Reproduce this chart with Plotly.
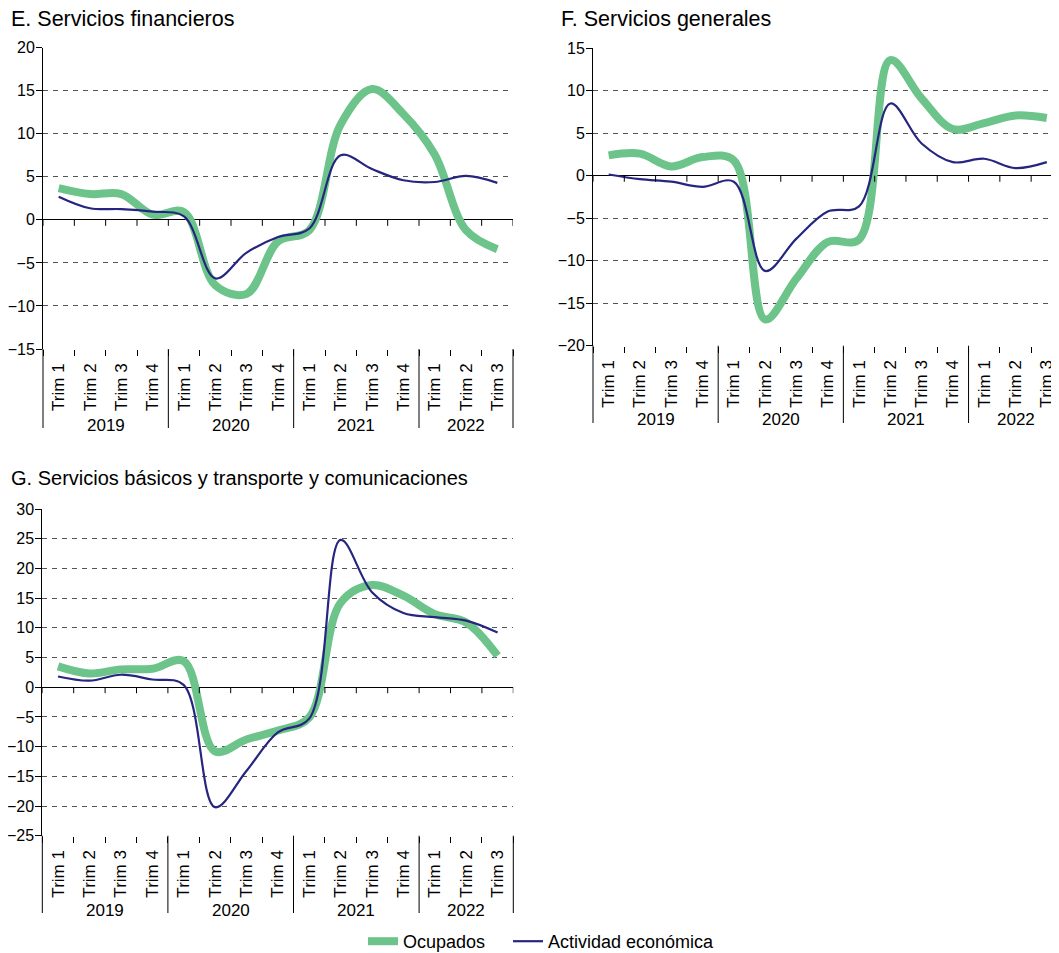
import plotly.graph_objects as go

# la página añade 8 px de margen; la figura ocupa el resto de la ventana
VENTANA_W, VENTANA_H = 1059, 953
OFF = 8
W, H = VENTANA_W - OFF, VENTANA_H - OFF

# datos (variación interanual, %)
trimestres = ["Trim 1", "Trim 2", "Trim 3", "Trim 4"] * 3 + ["Trim 1", "Trim 2", "Trim 3"]
anios = ["2019", "2020", "2021", "2022"]
anio_centro = [1.5, 5.5, 9.5, 13]
x = list(range(len(trimestres)))

fin_ocupados = [3.7, 3.0, 3.0, 0.6, 0.9, -7.6, -8.6, -2.5, -1.2, 11.1, 15.2, 12.3, 7.6, -1.2, -3.4]
fin_actividad = [2.7, 1.35, 1.25, 0.95, 0.4, -6.8, -3.8, -2.0, -1.0, 7.5, 5.9, 4.6, 4.4, 5.1, 4.3]

gen_ocupados = [2.4, 2.6, 1.1, 2.2, 1.8, -16.9, -12.1, -7.8, -7.5, 13.6, 9.1, 5.5, 6.2, 7.1, 6.8]
gen_actividad = [0.15, -0.4, -0.7, -1.3, -0.7, -11.2, -7.4, -4.2, -3.6, 8.5, 3.8, 1.6, 2.0, 0.9, 1.6]

bas_ocupados = [3.5, 2.3, 3.0, 3.1, 4.4, -10.8, -8.8, -7.3, -5.1, 14.2, 17.2, 15.4, 12.3, 10.9, 5.3]
bas_actividad = [1.8, 1.1, 2.1, 1.3, 0.4, -20.2, -14.1, -7.6, -5.3, 24.8, 16.0, 12.5, 11.8, 11.2, 9.2]

VERDE = "#6CC48A"
AZUL = "#262680"
FUENTE = "Liberation Sans, Arial, sans-serif"


def fx(p):
    return (p - OFF) / W


def fy(p):
    return 1 - (p - OFF) / H


paneles = [
    dict(titulo="E. Servicios financieros", ocu=fin_ocupados, act=fin_actividad, rango=[-15, 20],
         caja=(43, 513, 47.7, 349), tpos=(9, 19.5), tsize=21.5, anio_y=425, fondo=428, xr=[-0.5, 14.5]),
    dict(titulo="F. Servicios generales", ocu=gen_ocupados, act=gen_actividad, rango=[-20, 15],
         caja=(593, 1059, 48.3, 345.7), tpos=(559, 19.5), tsize=21.5, anio_y=419.5, fondo=423,
         xr=[-0.5, 14.39]),
    dict(titulo="G. Servicios básicos y transporte y comunicaciones", ocu=bas_ocupados, act=bas_actividad,
         rango=[-25, 30], caja=(42.3, 513.3, 509, 835.7), tpos=(9, 477.5), tsize=20, anio_y=910.5,
         fondo=913, xr=[-0.5, 14.5]),
]

fig = go.Figure()
limites = [b - 0.5 for b in range(16)]
shapes = []
annotations = []

for i, p in enumerate(paneles, start=1):
    sfx = "" if i == 1 else str(i)
    fig.add_trace(go.Scatter(x=x, y=p["ocu"], mode="lines", name="Ocupados",
                             line=dict(color=VERDE, width=8, shape="spline", smoothing=1),
                             showlegend=(i == 1), legend="legend", xaxis="x" + sfx, yaxis="y" + sfx))
    fig.add_trace(go.Scatter(x=x, y=p["act"], mode="lines", name="Actividad económica",
                             line=dict(color=AZUL, width=2.2, shape="spline", smoothing=1),
                             showlegend=(i == 1), legend="legend2", xaxis="x" + sfx, yaxis="y" + sfx))

    x0, x1, ytop, ybot = p["caja"]
    alto = ybot - ytop
    ppu = alto / (p["rango"][1] - p["rango"][0])
    ext = (p["fondo"] - ybot) / alto

    fig.layout["xaxis" + sfx] = dict(
        domain=[fx(x0), min(fx(x1), 1)], range=p["xr"], anchor="y" + sfx, automargin=False,
        tickmode="array", tickvals=x, ticktext=trimestres, tickangle=-90,
        ticks="", ticklabelstandoff=10, showline=False, showgrid=False, zeroline=False,
        tickfont=dict(size=17, color="black"),
        minor=dict(tickmode="array", tickvals=limites, ticks="outside", ticklen=6,
                   tickcolor="black", tickwidth=1, showgrid=False),
    )
    fig.layout["yaxis" + sfx] = dict(
        domain=[fy(ybot), fy(ytop)], range=p["rango"], anchor="x" + sfx, automargin=False,
        tickmode="linear", tick0=p["rango"][0], dtick=5,
        ticks="outside", ticklen=6, tickcolor="black", tickwidth=1, ticklabelstandoff=-2,
        showline=True, linecolor="black", linewidth=1,
        showgrid=True, gridcolor="#555555", gridwidth=1, griddash="5px,5px",
        zeroline=True, zerolinecolor="black", zerolinewidth=1.3,
        tickfont=dict(size=16, color="black"),
    )

    # marcas sobre la línea de cero
    for b in limites:
        shapes.append(dict(type="line", xref="x" + sfx, yref="y" + sfx, x0=b, x1=b,
                           y0=0, y1=-6 / ppu, line=dict(color="black", width=1)))
    # separadores de año y prolongación del eje
    for b in [3.5, 7.5, 11.5]:
        shapes.append(dict(type="line", xref="x" + sfx, yref="y" + sfx + " domain", x0=b, x1=b,
                           y0=0, y1=-ext, line=dict(color="black", width=1)))
    shapes.append(dict(type="line", xref="x" + sfx + " domain", yref="y" + sfx + " domain",
                       x0=0, x1=0, y0=0, y1=-ext, line=dict(color="black", width=1)))
    if p["xr"][1] >= 14.5:
        shapes.append(dict(type="line", xref="x" + sfx + " domain", yref="y" + sfx + " domain",
                           x0=1, x1=1, y0=0, y1=-ext, line=dict(color="black", width=1)))

    for a, c in zip(anios, anio_centro):
        annotations.append(dict(text=a, x=c, xref="x" + sfx, y=fy(p["anio_y"]), yref="paper",
                                yanchor="middle", xanchor="center", showarrow=False,
                                font=dict(size=17, color="black")))
    annotations.append(dict(text=p["titulo"], x=fx(p["tpos"][0]), y=fy(p["tpos"][1]),
                            xref="paper", yref="paper", xanchor="left", yanchor="middle",
                            showarrow=False, font=dict(size=p["tsize"], color="black")))

leyenda = dict(orientation="h", xref="container", yref="container", xanchor="left",
               yanchor="top", y=fy(923), font=dict(size=18), bgcolor="rgba(0,0,0,0)")

fig.update_layout(
    width=W, height=H,
    margin=dict(l=0, r=0, t=0, b=0, autoexpand=False),
    paper_bgcolor="white", plot_bgcolor="white",
    font=dict(family=FUENTE, color="black"),
    shapes=shapes, annotations=annotations,
    legend=dict(leyenda, x=fx(363)),
    legend2=dict(leyenda, x=fx(508)),
)

fig.write_html("out.html")
